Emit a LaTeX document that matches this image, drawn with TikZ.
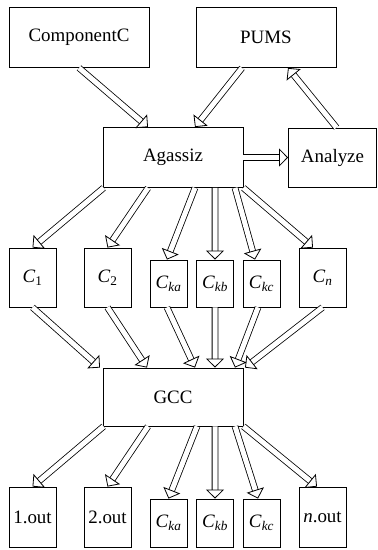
\documentclass[tikz,border=0pt]{standalone}
\usepackage{tikz}
\usetikzlibrary{arrows.meta}
\usepackage{fontspec}
\setmainfont{Liberation Serif}
\newcommand{\csub}[2]{\textit{#1}\textsubscript{#2}}

\begin{document}
\begin{tikzpicture}[
  box/.style={draw,line width=0.8bp,inner sep=0pt,font=\fontsize{19}{22}\selectfont},
  wide/.style={box,minimum width=140bp,minimum height=60bp},
  tall/.style={box,minimum width=47bp,minimum height=59bp},
  slim/.style={box,minimum width=37bp,minimum height=47bp},
  flow/.style={line width=0.8bp,double distance=5bp,-{Triangle[open,length=9bp,width=18bp]}}]
\useasboundingbox (0bp,0bp) rectangle (378bp,-550bp);
% sources
\node (CompC) at (79bp,-37.5bp)[wide] {ComponentC};
\node (PUMS) at (266bp,-37.5bp)[wide] {PUMS};
\node (Agassiz) at (173bp,-157.5bp)[wide] {Agassiz};
\node (Analyze) at (332.5bp,-157.5bp)[box,minimum width=88bp,minimum height=59bp] {Analyze};
% components
\node (C1) at (32.5bp,-277.5bp)[tall] {\csub{C}{1}};
\node (C2) at (107.5bp,-277.5bp)[tall] {\csub{C}{2}};
\node (Cka) at (168.5bp,-283.5bp)[slim] {\csub{C}{\textit{ka}}};
\node (Ckb) at (215bp,-283.5bp)[slim] {\csub{C}{\textit{kb}}};
\node (Ckc) at (261.5bp,-283.5bp)[slim] {\csub{C}{\textit{kc}}};
\node (Cn) at (322.5bp,-277.5bp)[tall] {\csub{C}{\textit{n}}};
\node (GCC) at (173bp,-397bp)[wide,minimum height=58bp] {GCC};
% outputs
\node (O1) at (32.5bp,-517bp)[tall,minimum height=60bp] {1.out};
\node (O2) at (107.5bp,-517bp)[tall,minimum height=60bp] {2.out};
\node (Oka) at (168.5bp,-523bp)[slim,minimum height=48bp] {\csub{C}{\textit{ka}}};
\node (Okb) at (215bp,-523bp)[slim,minimum height=48bp] {\csub{C}{\textit{kb}}};
\node (Okc) at (261.5bp,-523bp)[slim,minimum height=48bp] {\csub{C}{\textit{kc}}};
\node (On) at (322.5bp,-517bp)[tall,minimum height=60bp] {\textit{n}.out};
% top arrows
\draw [flow] (CompC.south) -- ([xshift=-25bp]Agassiz.north);
\draw [flow] ([xshift=-24bp]PUMS.south) -- ([xshift=22bp]Agassiz.north);
\draw [flow] ([xshift=4bp]Analyze.north) -- ([xshift=22bp]PUMS.south);
\draw [flow] (Agassiz.east) -- (Analyze.west);
% Agassiz to components
\draw [flow] ([xshift=1bp]Agassiz.south west) -- (C1.north);
\draw [flow] ([xshift=-25bp]Agassiz.south) -- (C2.north);
\draw [flow] ([xshift=22bp]Agassiz.south) -- ([xshift=-1.5bp]Cka.north);
\draw [flow] ([xshift=42bp]Agassiz.south) -- (Ckb.north);
\draw [flow] ([xshift=62bp]Agassiz.south) -- ([xshift=-6.5bp]Ckc.north);
\draw [flow] (Agassiz.south east) -- ([xshift=-9.5bp]Cn.north);
% components to GCC
\draw [flow] (C1.south) -- ([xshift=-73bp]GCC.north);
\draw [flow] (C2.south) -- ([xshift=-26bp]GCC.north);
\draw [flow] ([xshift=-1.5bp]Cka.south) -- ([xshift=22bp]GCC.north);
\draw [flow] (Ckb.south) -- ([xshift=42bp]GCC.north);
\draw [flow] ([xshift=-3.5bp]Ckc.south) -- ([xshift=62bp]GCC.north);
\draw [flow] (Cn.south) -- ([xshift=72bp]GCC.north);
% GCC to outputs
\draw [flow] ([xshift=1bp]GCC.south west) -- (O1.north);
\draw [flow] ([xshift=-25bp]GCC.south) -- (O2.north);
\draw [flow] ([xshift=24bp]GCC.south) -- (Oka.north);
\draw [flow] ([xshift=42bp]GCC.south) -- (Okb.north);
\draw [flow] ([xshift=62bp]GCC.south) -- ([xshift=-3.5bp]Okc.north);
\draw [flow] (GCC.south east) -- ([xshift=-5.5bp]On.north);
\end{tikzpicture}
\end{document}
